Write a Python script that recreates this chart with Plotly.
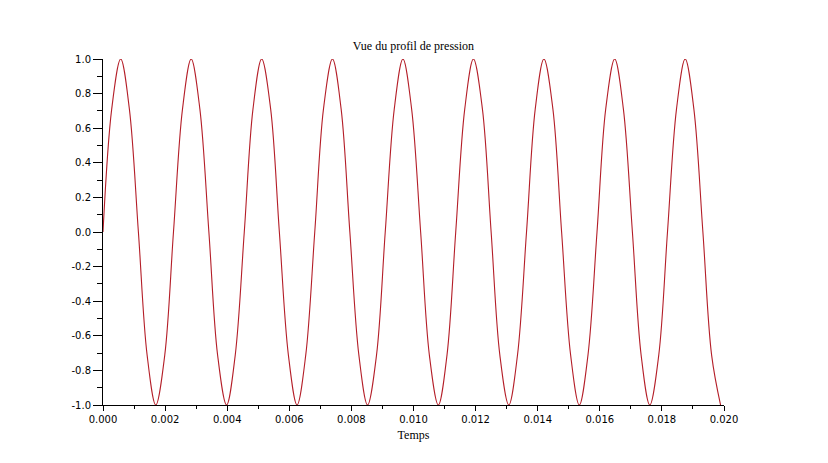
import plotly.graph_objects as go

# Sample points (zero crossings, +/-0.71 points, peaks, troughs)
temps = [0.00000, 0.00028, 0.00057, 0.00085, 0.00114, 0.00142, 0.00170, 0.00199,
         0.00227, 0.00256, 0.00284, 0.00312, 0.00341, 0.00369, 0.00398, 0.00426,
         0.00455, 0.00483, 0.00511, 0.00540, 0.00568, 0.00597, 0.00625, 0.00653,
         0.00682, 0.00710, 0.00739, 0.00767, 0.00795, 0.00824, 0.00852, 0.00881,
         0.00909, 0.00938, 0.00966, 0.00994, 0.01023, 0.01051, 0.01080, 0.01108,
         0.01136, 0.01165, 0.01193, 0.01222, 0.01250, 0.01278, 0.01307, 0.01335,
         0.01364, 0.01392, 0.01420, 0.01449, 0.01477, 0.01506, 0.01534, 0.01562,
         0.01591, 0.01619, 0.01648, 0.01676, 0.01705, 0.01733, 0.01761, 0.01790,
         0.01818, 0.01847, 0.01875, 0.01903, 0.01932, 0.01960, 0.01989]
pression = [0.0, 0.71, 1.0, 0.71, 0.0, -0.71, -1.0, -0.71,
            0.0, 0.71, 1.0, 0.71, 0.0, -0.71, -1.0, -0.71,
            0.0, 0.71, 1.0, 0.71, 0.0, -0.71, -1.0, -0.71,
            0.0, 0.71, 1.0, 0.71, 0.0, -0.71, -1.0, -0.71,
            0.0, 0.71, 1.0, 0.71, 0.0, -0.71, -1.0, -0.71,
            0.0, 0.71, 1.0, 0.71, 0.0, -0.71, -1.0, -0.71,
            0.0, 0.71, 1.0, 0.71, 0.0, -0.71, -1.0, -0.71,
            0.0, 0.71, 1.0, 0.71, 0.0, -0.71, -1.0, -0.71,
            0.0, 0.71, 1.0, 0.71, 0.0, -0.71, -1.0]

x_ticks = [0.000, 0.002, 0.004, 0.006, 0.008, 0.010, 0.012, 0.014, 0.016, 0.018, 0.020]
x_labels = ["0.000", "0.002", "0.004", "0.006", "0.008", "0.010",
            "0.012", "0.014", "0.016", "0.018", "0.020"]
y_ticks = [-1.0, -0.8, -0.6, -0.4, -0.2, 0.0, 0.2, 0.4, 0.6, 0.8, 1.0]
y_labels = ["-1.0", "-0.8", "-0.6", "-0.4", "-0.2", "0.0", "0.2", "0.4", "0.6", "0.8", "1.0"]

W, H = 820, 455

fig = go.Figure()
fig.add_trace(go.Scatter(
    x=temps, y=pression, mode="lines",
    line=dict(color="#B41E28", width=1.1, shape="spline", smoothing=1.0),
    cliponaxis=False, showlegend=False, hoverinfo="skip",
))

tickfont = dict(family="DejaVu Sans, Arial, sans-serif", size=10, color="black")
serif = dict(family="Liberation Serif, Times New Roman, serif", size=12, color="black")

fig.update_layout(
    width=W, height=H,
    margin=dict(l=95, r=104, t=51, b=58),
    paper_bgcolor="white", plot_bgcolor="white",
    title=dict(text="Vue du profil de pression", x=(95 + 621 / 2) / W, xanchor="center",
               y=1 - 37.5 / H, yanchor="middle", font=serif),
    xaxis=dict(
        range=[0, 0.02], tickvals=x_ticks, ticktext=x_labels,
        showgrid=False, zeroline=False, showline=True, linecolor="black", linewidth=1,
        ticks="outside", ticklen=5, tickcolor="black", tickwidth=1,
        minor=dict(dtick=0.001, ticks="outside", ticklen=3, tickcolor="black", showgrid=False),
        tickfont=tickfont,
        title=dict(text="Temps", standoff=6, font=serif),
    ),
    yaxis=dict(
        range=[-1, 1], tickvals=y_ticks, ticktext=y_labels,
        showgrid=False, zeroline=False, showline=True, linecolor="black", linewidth=1,
        ticks="outside", ticklen=9, tickcolor="black", tickwidth=1,
        minor=dict(dtick=0.1, ticks="outside", ticklen=5, tickcolor="black", showgrid=False),
        tickfont=tickfont,
    ),
)

fig.write_html("out.html")
